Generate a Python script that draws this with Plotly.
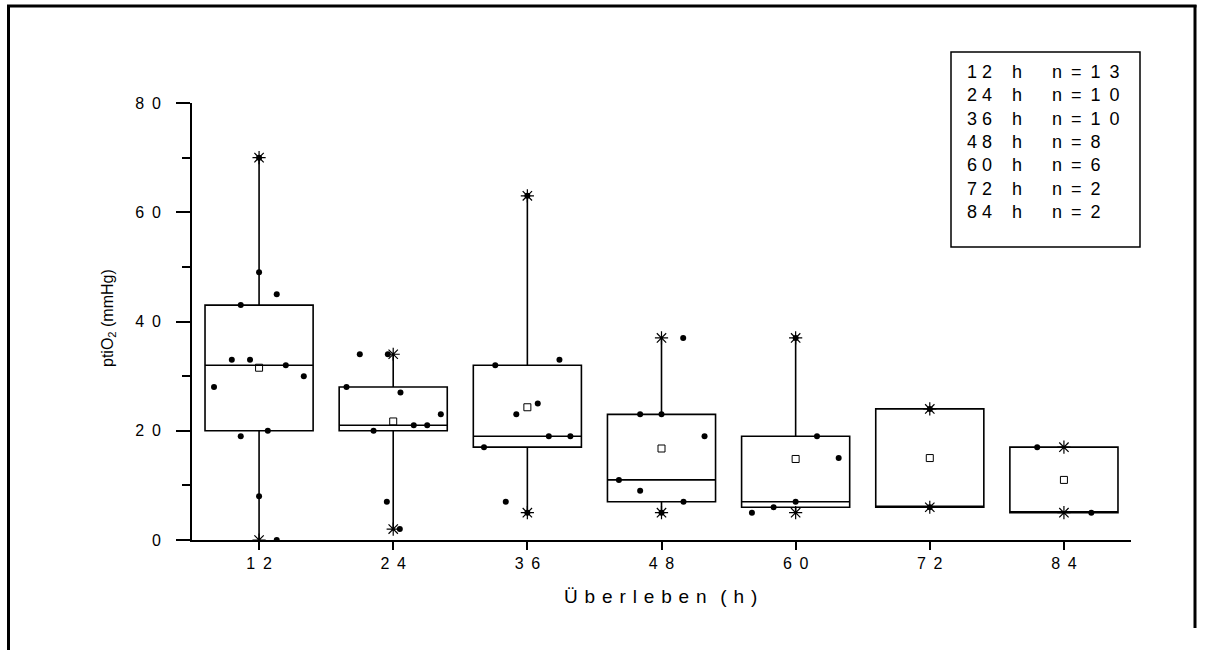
import plotly.graph_objects as go

# Survival time groups (hours)
hours = [12, 24, 36, 48, 60, 72, 84]

# Individual ptiO2 readings per group (mmHg)
values = [
    [70, 49, 45, 43, 33, 33, 32, 30, 28, 20, 19, 8, 0],
    [34, 34, 28, 27, 23, 21, 21, 20, 7, 2],
    [63, 33, 32, 25, 23, 19, 19, 17, 7, 5],
    [37, 23, 23, 19, 11, 9, 7, 5],
    [37, 19, 15, 7, 6, 5],
    [24, 6],
    [17, 5],
]

# Horizontal spread of the dots around each group centre (hours)
spread = [
    [0, 0, 1.58, -1.64, -2.44, -0.81, 2.39, 4.0, -4.03, 0.78, -1.64, 0, 1.58],
    [-2.99, -0.48, -4.18, 0.65, 4.26, 1.84, 3.04, -1.76, -0.57, 0.59],
    [0, 2.87, -2.87, 0.93, -0.99, 1.92, 3.85, -3.88, -1.93, 0],
    [1.94, -1.91, 0, 3.85, -3.81, -1.91, 1.97, 0],
    [0, 1.91, 3.85, 0, -1.97, -3.91],
    [0, 0],
    [-2.39, 2.45],
]

# Box statistics per group
q1 = [20, 20, 17, 7, 6, 6, 5]
median = [32, 21, 19, 11, 7, 6, 5]
q3 = [43, 28, 32, 23, 19, 24, 17]
lo = [min(v) for v in values]
hi = [max(v) for v in values]
mean = [sum(v) / len(v) for v in values]
counts = [len(v) for v in values]

y_ticks = [0, 20, 40, 60, 80]

FONT = "Arial, Liberation Sans, sans-serif"
EN = "\u2002"
WIDE = " \u2009"   # word space plus thin space
LOOSE = " \u200a"  # word space plus hair space

# Plot area in pixels
L, R, T, B = 192, 1131, 103, 540
W, H = 1206, 650


def px(xp):
    return (xp - L) / (R - L)


def py(yp):
    return (B - yp) / (B - T)


def spaced(s, gap=" "):
    return gap.join(str(s))


fig = go.Figure()

fig.add_trace(go.Box(
    x=hours, q1=q1, median=median, q3=q3,
    lowerfence=lo, upperfence=hi,
    width=9.67, whiskerwidth=0,
    boxpoints=False,
    line=dict(color="black", width=1.6),
    fillcolor="rgba(255,255,255,0)",
    showlegend=False, hoverinfo="skip",
))

# Individual readings
dx, dy = [], []
for h, vals, offs in zip(hours, values, spread):
    for v, o in zip(vals, offs):
        dx.append(h + o)
        dy.append(v)
fig.add_trace(go.Scatter(
    x=dx, y=dy, mode="markers",
    marker=dict(symbol="circle", size=6, color="black"),
    showlegend=False,
))

# Min / max markers
fig.add_trace(go.Scatter(
    x=hours + hours, y=lo + hi, mode="markers",
    marker=dict(symbol="asterisk-open", size=11, color="black",
                line=dict(color="black", width=1.2)),
    showlegend=False,
))

# Means
fig.add_trace(go.Scatter(
    x=hours, y=mean, mode="markers",
    marker=dict(symbol="square-open", size=7, color="black",
                line=dict(color="black", width=1)),
    showlegend=False,
))

fig.update_xaxes(
    range=[6, 90],
    tickmode="array", tickvals=hours,
    ticktext=[spaced(h, WIDE) for h in hours],
    ticks="outside", ticklen=8, tickwidth=2, tickcolor="black",
    showline=True, linecolor="black", linewidth=2,
    showgrid=False, zeroline=False,
    tickfont=dict(family=FONT, size=16, color="black"),
)
fig.update_yaxes(
    range=[0, 80],
    tickmode="array", tickvals=y_ticks,
    ticktext=[spaced(t, WIDE) for t in y_ticks],
    ticks="outside", ticklen=14, tickwidth=2, tickcolor="black",
    minor=dict(tickvals=[10, 30, 50, 70], ticks="outside", ticklen=8,
               tickwidth=2, tickcolor="black"),
    showline=True, linecolor="black", linewidth=2,
    showgrid=False, zeroline=False,
    ticklabelstandoff=12,
    tickfont=dict(family=FONT, size=16, color="black"),
)

annotations = [
    dict(text=spaced("Überleben", LOOSE) + LOOSE + LOOSE + spaced("(h)", LOOSE),
         x=px(660), y=py(596), xref="paper", yref="paper",
         xanchor="center", yanchor="middle", showarrow=False,
         font=dict(family=FONT, size=19, color="black")),
    dict(text="ptiO<sub>2</sub> (mmHg)", x=px(108), y=py(318),
         xref="paper", yref="paper", xanchor="center", yanchor="middle",
         showarrow=False, textangle=-90,
         font=dict(family=FONT, size=16, color="black")),
]

# Group size table
for i, (h, n) in enumerate(zip(hours, counts)):
    yy = py(72 + i * 23.3)
    cells = (
        (spaced(h), 965),
        ("h", 1010),
        ("n" + EN + "=" + EN + spaced(n, EN), 1050),
    )
    for txt, xx in cells:
        annotations.append(dict(
            text=txt, x=px(xx), y=yy, xref="paper", yref="paper",
            xanchor="left", yanchor="middle", showarrow=False,
            font=dict(family=FONT, size=18, color="black")))

shapes = [
    # table border
    dict(type="rect", xref="paper", yref="paper",
         x0=px(951), x1=px(1140), y0=py(52), y1=py(247),
         line=dict(color="black", width=1.5)),
    # outer frame
    dict(type="line", xref="paper", yref="paper",
         x0=px(8.5), x1=px(8.5), y0=py(5), y1=py(652),
         line=dict(color="black", width=3)),
    dict(type="line", xref="paper", yref="paper",
         x0=px(7), x1=px(1196.5), y0=py(6), y1=py(6),
         line=dict(color="black", width=3)),
    dict(type="line", xref="paper", yref="paper",
         x0=px(1195), x1=px(1195), y0=py(5), y1=py(628),
         line=dict(color="black", width=3)),
]

fig.update_layout(
    width=W, height=H,
    margin=dict(l=L, r=W - R, t=T, b=H - B),
    paper_bgcolor="white", plot_bgcolor="white",
    annotations=annotations, shapes=shapes,
    showlegend=False,
)

fig.write_html("out.html")
